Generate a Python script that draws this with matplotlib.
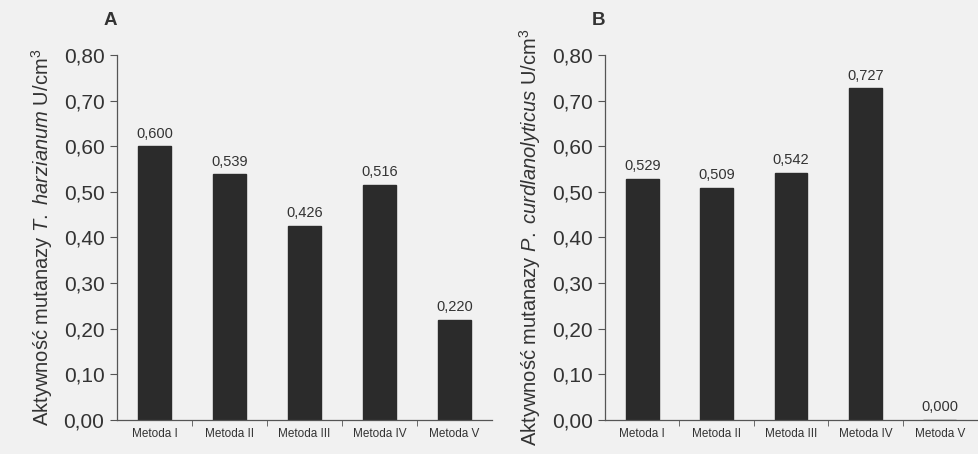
import numpy as np
import matplotlib
matplotlib.use("Agg")
import matplotlib.pyplot as plt

plt.rcParams['font.family'] = ['Liberation Sans', 'DejaVu Sans']
plt.rcParams['mathtext.fontset'] = 'custom'
plt.rcParams['mathtext.rm'] = 'Liberation Sans'
plt.rcParams['mathtext.it'] = 'Liberation Sans:italic'

methods = ["Metoda I", "Metoda II", "Metoda III", "Metoda IV", "Metoda V"]
values_a = [0.600, 0.539, 0.426, 0.516, 0.220]
values_b = [0.529, 0.509, 0.542, 0.727, 0.000]
yticks = [0.0, 0.1, 0.2, 0.3, 0.4, 0.5, 0.6, 0.7, 0.8]

bg = '#f1f1f1'
bar_color = '#2b2b2b'
txt = '#333333'

fig = plt.figure(figsize=(9.79, 4.54), dpi=100, facecolor=bg)
ax_a = fig.add_axes([0.1195, 0.075, 0.383, 0.804])
ax_b = fig.add_axes([0.618, 0.075, 0.380, 0.804])


def pl(v, d):
    return f"{v:.{d}f}".replace('.', ',')


def draw(ax, vals, ylabel, letter):
    ax.set_facecolor(bg)
    x = np.arange(len(methods))
    ax.bar(x, vals, width=0.44, color=bar_color, edgecolor=bar_color)
    for xi, v in zip(x, vals):
        ax.text(xi, v + 0.012, pl(v, 3), ha='center', va='bottom', fontsize=10.5, color=txt)
    ax.set_xlim(-0.5, len(methods) - 0.5)
    ax.set_ylim(0, 0.8)
    ax.set_yticks(yticks)
    ax.set_yticklabels([pl(t, 2) for t in yticks], fontsize=15, color=txt)
    ax.set_xticks(x)
    ax.set_xticklabels(methods, fontsize=8.5, color=txt)
    ax.set_xticks(np.arange(0.5, len(methods) - 0.5, 1.0), minor=True)
    ax.tick_params(axis='x', which='major', length=0, pad=6)
    ax.tick_params(axis='x', which='minor', length=4, direction='out', color='#555555')
    ax.tick_params(axis='y', length=5, direction='out', color='#555555', pad=4)
    for s in ['top', 'right']:
        ax.spines[s].set_visible(False)
    for s in ['left', 'bottom']:
        ax.spines[s].set_color('#555555')
        ax.spines[s].set_linewidth(0.9)
    ax.set_ylabel(ylabel, fontsize=14.5, color=txt, labelpad=6)
    ax.text(0.0, 1.07, letter, transform=ax.transAxes, fontsize=13.5,
            fontweight='bold', color=txt, ha='right', va='bottom')


draw(ax_a, values_a, r'Aktywność mutanazy $\it{T.\ harzianum}$ U/cm$^3$', 'A')
draw(ax_b, values_b, r'Aktywność mutanazy $\it{P.\ curdlanolyticus}$ U/cm$^3$', 'B')

fig.savefig("out.png", dpi=100, facecolor=bg)
